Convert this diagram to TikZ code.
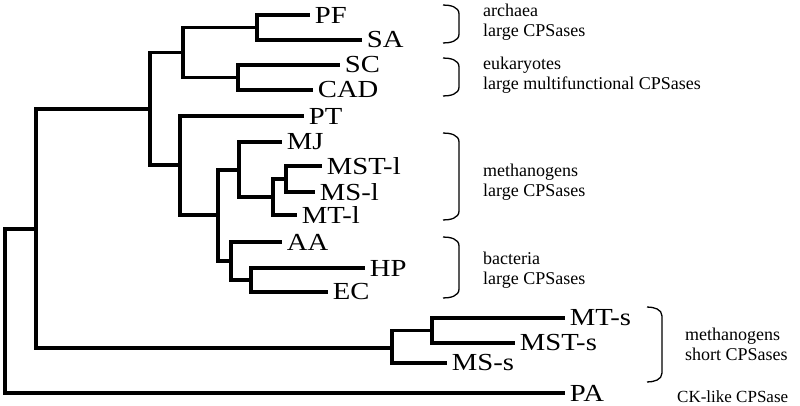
\documentclass[tikz,border=0pt]{standalone}
\usepackage{fontspec}
\setmainfont{Liberation Serif}
\usepackage{tikz}

\begin{document}
\begin{tikzpicture}
    [x=1pt,y=-1pt,
    branch/.style={black,line width=3.2pt},
    bracket/.style={black,line width=1.3pt},
    leaf/.style={anchor=west,inner xsep=4pt,inner ysep=0pt,xscale=1.17,font=\fontsize{24.5}{24.5}\selectfont},
    group/.style={anchor=west,align=left,inner sep=0pt,font=\fontsize{18}{20}\selectfont}]

\useasboundingbox (0,0) rectangle (800,406);

%internal nodes of the tree
\coordinate (pfsa) at (257,27.5);
\coordinate (sccad) at (238,77.5);
\coordinate (arceuk) at (183,52.5);
\coordinate (mstms) at (286,179);
\coordinate (mstmt) at (273,197);
\coordinate (methl) at (239,170);
\coordinate (hpec) at (251,280);
\coordinate (bact) at (231,261);
\coordinate (methbact) at (218,215);
\coordinate (ptgrp) at (180,165);
\coordinate (large) at (150,109);
\coordinate (mtmst) at (432,330.5);
\coordinate (short) at (392,348);
\coordinate (allcps) at (36,229);
\coordinate (root) at (5,311);

%leaves
\node[leaf] (PF) at (310,15) {PF};
\node[leaf] (SA) at (362,40) {SA};
\node[leaf] (SC) at (340,65) {SC};
\node[leaf] (CAD) at (313,90) {CAD};
\node[leaf] (PT) at (304,116) {PT};
\node[leaf] (MJ) at (282,142) {MJ};
\node[leaf] (MSTl) at (322,166) {MST-l};
\node[leaf] (MSl) at (315,192) {MS-l};
\node[leaf] (MTl) at (297,215) {MT-l};
\node[leaf] (AA) at (282,242) {AA};
\node[leaf] (HP) at (365,268) {HP};
\node[leaf] (EC) at (328,292) {EC};
\node[leaf] (MTs) at (565,318) {MT-s};
\node[leaf] (MSTs) at (515,343) {MST-s};
\node[leaf] (MSs) at (447,363) {MS-s};
\node[leaf] (PA) at (565,393) {PA};

%draw branches
\draw[branch] (pfsa) |- (PF.west);
\draw[branch] (pfsa) |- (SA.west);
\draw[branch] (sccad) |- (SC.west);
\draw[branch] (sccad) |- (CAD.west);
\draw[branch] (arceuk) |- (pfsa);
\draw[branch] (arceuk) |- (sccad);
\draw[branch] (mstms) |- (MSTl.west);
\draw[branch] (mstms) |- (MSl.west);
\draw[branch] (mstmt) |- (mstms);
\draw[branch] (mstmt) |- (MTl.west);
\draw[branch] (methl) |- (MJ.west);
\draw[branch] (methl) |- (mstmt);
\draw[branch] (hpec) |- (HP.west);
\draw[branch] (hpec) |- (EC.west);
\draw[branch] (bact) |- (AA.west);
\draw[branch] (bact) |- (hpec);
\draw[branch] (methbact) |- (methl);
\draw[branch] (methbact) |- (bact);
\draw[branch] (ptgrp) |- (PT.west);
\draw[branch] (ptgrp) |- (methbact);
\draw[branch] (large) |- (arceuk);
\draw[branch] (large) |- (ptgrp);
\draw[branch] (mtmst) |- (MTs.west);
\draw[branch] (mtmst) |- (MSTs.west);
\draw[branch] (short) |- (mtmst);
\draw[branch] (short) |- (MSs.west);
\draw[branch] (allcps) |- (large);
\draw[branch] (allcps) |- (short);
\draw[branch] (root) |- (allcps);
\draw[branch] (root) |- (PA.west);

%brackets
\draw[bracket] (443,5) to[out=0,in=90] (459,14) -- (459,34) to[out=-90,in=0] (443,43);
\draw[bracket] (443,58) to[out=0,in=90] (459,67) -- (459,87) to[out=-90,in=0] (443,96);
\draw[bracket] (443,133) to[out=0,in=90] (459,142) -- (459,211) to[out=-90,in=0] (443,220);
\draw[bracket] (443,237) to[out=0,in=90] (459,246) -- (459,289) to[out=-90,in=0] (443,298);
\draw[bracket] (647,307) to[out=0,in=90] (662,316) -- (662,373) to[out=-90,in=0] (647,382);

%group labels
\node[group] (archaea) at (483,22) {archaea\\large CPSases};
\node[group] (eukaryotes) at (483,75) {eukaryotes\\large multifunctional CPSases};
\node[group] (methlarge) at (483,182.5) {methanogens\\large CPSases};
\node[group] (bacteria) at (483,270) {bacteria\\large CPSases};
\node[group] (methshort) at (685,344.5) {methanogens\\short CPSases};
\node[group,font=\fontsize{17}{20}\selectfont] (cklike) at (677,397) {CK-like CPSase};

\end{tikzpicture}
\end{document}
